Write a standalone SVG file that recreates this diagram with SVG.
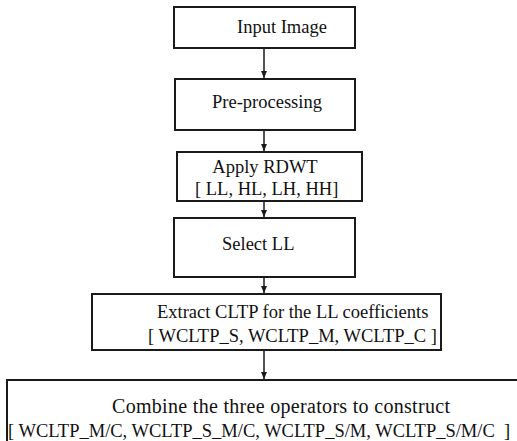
<svg xmlns="http://www.w3.org/2000/svg" width="517" height="441" viewBox="0 0 517 441">
<style>
.box{fill:#fff;stroke:#1a1a1a;stroke-width:2}
.t{font-family:"Liberation Serif","Times New Roman",serif;font-size:18.5px;fill:#111}
.c{stroke:#1a1a1a;stroke-width:1.5;fill:none}
</style>
<defs>
<marker id="ah" markerWidth="8" markerHeight="8" refX="7" refY="4" orient="auto" markerUnits="userSpaceOnUse">
<path d="M0,1 L7,4 L0,7 Z" fill="#1a1a1a"/>
</marker>
</defs>
<rect width="517" height="441" fill="#fff"/>
<g id="connectors">
<line class="c" x1="264" y1="48" x2="264" y2="78" marker-end="url(#ah)"/>
<line class="c" x1="264" y1="130" x2="264" y2="151" marker-end="url(#ah)"/>
<line class="c" x1="264" y1="201" x2="264" y2="217" marker-end="url(#ah)"/>
<line class="c" x1="264" y1="277" x2="264" y2="293" marker-end="url(#ah)"/>
<line class="c" x1="264" y1="350" x2="264" y2="379" marker-end="url(#ah)"/>
</g>
<g id="n1"><rect class="box" x="174" y="7" width="181" height="41"/><text class="t" x="237" y="33">Input Image</text></g>
<g id="n2"><rect class="box" x="175" y="79" width="180" height="51"/><text class="t" x="212" y="108">Pre-processing</text></g>
<g id="n3"><rect class="box" x="177" y="152" width="185" height="49"/><text class="t" x="265" y="173" text-anchor="middle">Apply RDWT</text><text class="t" x="195" y="195">[ LL, HL, LH, HH]</text></g>
<g id="n4"><rect class="box" x="174" y="218" width="181" height="59"/><text class="t" x="222" y="250">Select LL</text></g>
<g id="n5"><rect class="box" x="92" y="294" width="349" height="56"/><text class="t" x="157" y="318">Extract CLTP for the LL coefficients</text><text class="t" x="148" y="342" xml:space="preserve">[ WCLTP_S, WCLTP_M, WCLTP_C ]</text></g>
<g id="n6"><rect class="box" x="7" y="380" width="520" height="80"/><text class="t" x="112" y="413" style="font-size:20px" textLength="338" lengthAdjust="spacing">Combine the three operators to construct</text><text class="t" x="8" y="437" xml:space="preserve">[ WCLTP_M/C, WCLTP_S_M/C, WCLTP_S/M, WCLTP_S/M/C  ]</text></g>
</svg>
